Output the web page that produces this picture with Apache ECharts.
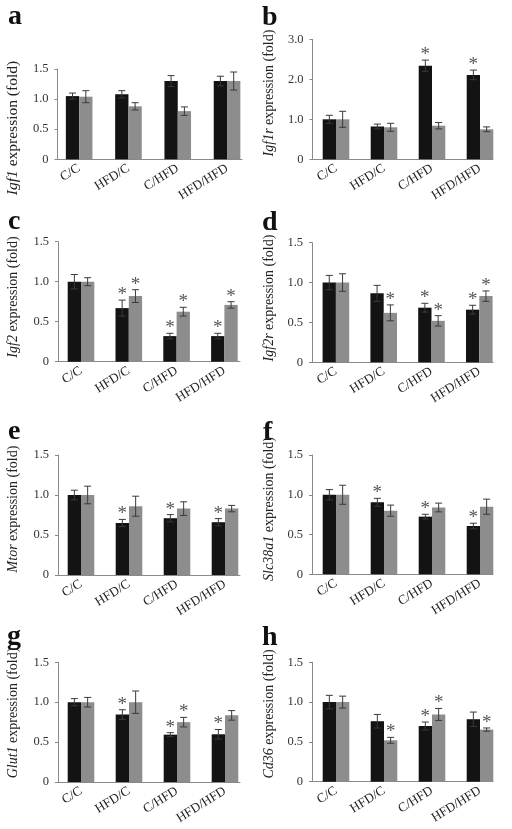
<!DOCTYPE html>
<html>
<head>
<meta charset="utf-8">
<script src="https://cdn.jsdelivr.net/npm/echarts@6/dist/echarts.min.js"></script>
<style>
html,body{margin:0;padding:0;background:#fff;}
#chart{width:512px;height:829px;}
</style>
</head>
<body>
<div id="chart"></div>
<script>
// ---------- data ----------
const categories = ['C/C', 'HFD/C', 'C/HFD', 'HFD/HFD'];
const ticks15 = ['0', '0.5', '1.0', '1.5'];
const ticks30 = ['0', '1.0', '2.0', '3.0'];

const igf1Black = [1.05, 1.08, 1.30, 1.30];
const igf1BlackErr = [0.05, 0.06, 0.09, 0.08];
const igf1Grey = [1.04, 0.88, 0.80, 1.30];
const igf1GreyErr = [0.10, 0.06, 0.07, 0.15];
const igf1BlackSig = [0, 0, 0, 0];
const igf1GreySig = [0, 0, 0, 0];

const igf1rBlack = [1.00, 0.82, 2.34, 2.11];
const igf1rBlackErr = [0.10, 0.06, 0.14, 0.12];
const igf1rGrey = [1.00, 0.80, 0.84, 0.75];
const igf1rGreyErr = [0.20, 0.10, 0.08, 0.06];
const igf1rBlackSig = [0, 0, 1, 1];
const igf1rGreySig = [0, 0, 0, 0];

const igf2Black = [1.00, 0.67, 0.32, 0.32];
const igf2BlackErr = [0.09, 0.10, 0.035, 0.035];
const igf2Grey = [1.00, 0.82, 0.625, 0.71];
const igf2GreyErr = [0.05, 0.08, 0.055, 0.04];
const igf2BlackSig = [0, 1, 1, 1];
const igf2GreySig = [0, 1, 1, 1];

const igf2rBlack = [1.00, 0.865, 0.685, 0.66];
const igf2rBlackErr = [0.09, 0.10, 0.055, 0.055];
const igf2rGrey = [1.00, 0.62, 0.52, 0.83];
const igf2rGreyErr = [0.11, 0.10, 0.065, 0.065];
const igf2rBlackSig = [0, 0, 1, 1];
const igf2rGreySig = [0, 1, 1, 1];

const mtorBlack = [1.00, 0.65, 0.71, 0.66];
const mtorBlackErr = [0.06, 0.045, 0.045, 0.045];
const mtorGrey = [1.00, 0.86, 0.83, 0.83];
const mtorGreyErr = [0.11, 0.125, 0.085, 0.04];
const mtorBlackSig = [0, 1, 1, 1];
const mtorGreySig = [0, 0, 0, 0];

const slc38a1Black = [1.00, 0.905, 0.725, 0.607];
const slc38a1BlackErr = [0.065, 0.05, 0.03, 0.035];
const slc38a1Grey = [1.00, 0.80, 0.84, 0.85];
const slc38a1GreyErr = [0.12, 0.07, 0.055, 0.095];
const slc38a1BlackSig = [0, 1, 1, 1];
const slc38a1GreySig = [0, 0, 0, 0];

const glut1Black = [1.00, 0.845, 0.593, 0.598];
const glut1BlackErr = [0.045, 0.06, 0.025, 0.06];
const glut1Grey = [1.00, 1.00, 0.75, 0.835];
const glut1GreyErr = [0.06, 0.14, 0.06, 0.06];
const glut1BlackSig = [0, 1, 1, 1];
const glut1GreySig = [0, 0, 1, 0];

const cd36Black = [1.00, 0.76, 0.70, 0.785];
const cd36BlackErr = [0.085, 0.085, 0.05, 0.09];
const cd36Grey = [1.00, 0.52, 0.845, 0.655];
const cd36GreyErr = [0.075, 0.037, 0.075, 0.02];
const cd36BlackSig = [0, 0, 1, 0];
const cd36GreySig = [0, 1, 1, 1];

// ---------- panel definitions (data refs + layout) ----------
const panels = [
  {letter:'a', gene:'Igf1', b:igf1Black, be:igf1BlackErr, g:igf1Grey, ge:igf1GreyErr, bs:igf1BlackSig, gs:igf1GreySig, ticks:ticks15, max:1.5, interval:0.5,
   axisX:57.5, bandStart:54.5, spacing:49.3, top:69, bottom:159.3, axisEnd:242, nameX:13, nameY:128, nameSize:15.5, lx:8, ly:26},
  {letter:'b', gene:'Igf1r', b:igf1rBlack, be:igf1rBlackErr, g:igf1rGrey, ge:igf1rGreyErr, bs:igf1rBlackSig, gs:igf1rGreySig, ticks:ticks30, max:3.0, interval:1.0,
   axisX:312.5, bandStart:312, spacing:48, top:39.3, bottom:159.3, axisEnd:493, nameX:269, nameY:93, nameSize:14, lx:262, ly:27},
  {letter:'c', gene:'Igf2', b:igf2Black, be:igf2BlackErr, g:igf2Grey, ge:igf2GreyErr, bs:igf2BlackSig, gs:igf2GreySig, ticks:ticks15, max:1.5, interval:0.5,
   axisX:58, bandStart:57.1, spacing:47.8, top:241.7, bottom:361.7, axisEnd:240, nameX:13, nameY:297, nameSize:14, lx:8, ly:231},
  {letter:'d', gene:'Igf2r', b:igf2rBlack, be:igf2rBlackErr, g:igf2rGrey, ge:igf2rGreyErr, bs:igf2rBlackSig, gs:igf2rGreySig, ticks:ticks15, max:1.5, interval:0.5,
   axisX:312, bandStart:312, spacing:47.8, top:242.7, bottom:362.3, axisEnd:493, nameX:269, nameY:298, nameSize:14, lx:262, ly:232},
  {letter:'e', gene:'Mtor', b:mtorBlack, be:mtorBlackErr, g:mtorGrey, ge:mtorGreyErr, bs:mtorBlackSig, gs:mtorGreySig, ticks:ticks15, max:1.5, interval:0.5,
   axisX:58, bandStart:57, spacing:48, top:455, bottom:575, axisEnd:240, nameX:13, nameY:509, nameSize:14, lx:8, ly:441},
  {letter:'f', gene:'Slc38a1', b:slc38a1Black, be:slc38a1BlackErr, g:slc38a1Grey, ge:slc38a1GreyErr, bs:slc38a1BlackSig, gs:slc38a1GreySig, ticks:ticks15, max:1.5, interval:0.5,
   axisX:312, bandStart:312, spacing:48, top:455, bottom:574.3, axisEnd:493, nameX:269, nameY:509, nameSize:14, lx:263, ly:442},
  {letter:'g', gene:'Glut1', b:glut1Black, be:glut1BlackErr, g:glut1Grey, ge:glut1GreyErr, bs:glut1BlackSig, gs:glut1GreySig, ticks:ticks15, max:1.5, interval:0.5,
   axisX:58, bandStart:57, spacing:48, top:662.3, bottom:782, axisEnd:240, nameX:13, nameY:713, nameSize:14, lx:7, ly:646},
  {letter:'h', gene:'Cd36', b:cd36Black, be:cd36BlackErr, g:cd36Grey, ge:cd36GreyErr, bs:cd36BlackSig, gs:cd36GreySig, ticks:ticks15, max:1.5, interval:0.5,
   axisX:312, bandStart:312, spacing:48, top:662.3, bottom:781.7, axisEnd:493, nameX:269, nameY:714, nameSize:14, lx:262, ly:647}
];

// ---------- styles ----------
const SERIF = '"Liberation Serif", "DejaVu Serif", serif';
const BLACK = '#131313';
const GREY = '#8d8d8d';
const AXIS = '#8a8a8a';
const ERR = '#3a3a3a';
const BAR_W = 13.3;
const CAP = 3.5;

const grid = [], xAxis = [], yAxis = [], series = [], graphic = [];

function errRender(params, api) {
  const cat = api.value(0), mean = api.value(1), err = api.value(2), side = api.value(3), sig = api.value(4);
  const x = api.coord([cat, 0])[0] + side * BAR_W / 2;
  const yt = api.coord([cat, mean + err])[1];
  const yb = api.coord([cat, mean - err])[1];
  const st = {stroke: ERR, lineWidth: 1};
  const children = [
    {type:'line', shape:{x1:x, y1:yb, x2:x, y2:yt}, style:st},
    {type:'line', shape:{x1:x-CAP, y1:yt, x2:x+CAP, y2:yt}, style:st},
    {type:'line', shape:{x1:x-CAP, y1:yb, x2:x+CAP, y2:yb}, style:st}
  ];
  if (sig) {
    children.push({type:'text', x:x, y:yt - 5, style:{text:'*', fill:'#555', fontSize:19, fontFamily:SERIF, align:'center', verticalAlign:'middle'}});
  }
  return {type:'group', children};
}

panels.forEach((p, i) => {
  const di = i * 2, fi = i * 2 + 1;
  const h = p.bottom - p.top;
  grid.push({left: p.bandStart, top: p.top, width: p.spacing * 4, height: h, containLabel: false});
  grid.push({left: p.axisX, top: p.top, width: p.axisEnd - p.axisX, height: h, containLabel: false});

  xAxis.push({
    type:'category', gridIndex: di, data: categories, boundaryGap: true,
    axisLine:{show:false}, axisTick:{show:false},
    axisLabel:{rotate:32, margin:8, color:'#222', fontFamily: SERIF, fontSize:13, interval:0}
  });
  xAxis.push({
    type:'value', gridIndex: fi, min:0, max:1,
    axisLine:{show:true, lineStyle:{color:AXIS, width:1}}, axisTick:{show:false}, axisLabel:{show:false}, splitLine:{show:false}
  });
  const tk = p.ticks;
  yAxis.push({
    type:'value', gridIndex: di, min:0, max:p.max, interval:p.interval, offset: p.bandStart - p.axisX,
    axisLine:{show:true, lineStyle:{color:AXIS, width:1}},
    axisTick:{show:true, length:3, lineStyle:{color:AXIS}},
    axisLabel:{margin:9, color:'#333', fontFamily: SERIF, fontSize:12.5,
      formatter: (v) => tk[Math.round(v / p.interval)]},
    splitLine:{show:false}
  });
  yAxis.push({type:'value', gridIndex: fi, min:0, max:p.max, show:false});

  series.push({type:'bar', name:'Black', xAxisIndex:di, yAxisIndex:di, data:p.b, barWidth:BAR_W, barGap:'0%',
    itemStyle:{color:BLACK}, silent:true});
  series.push({type:'bar', name:'Grey', xAxisIndex:di, yAxisIndex:di, data:p.g, barWidth:BAR_W, barGap:'0%',
    itemStyle:{color:GREY}, silent:true});
  const eb = [];
  categories.forEach((c, k) => {
    eb.push([k, p.b[k], p.be[k], -1, p.bs[k]]);
    eb.push([k, p.g[k], p.ge[k], 1, p.gs[k]]);
  });
  series.push({type:'custom', xAxisIndex:di, yAxisIndex:di, data:eb, renderItem: errRender, z:5, silent:true,
    encode:{x:0, y:1}});

  graphic.push({type:'text', x:p.lx, y:p.ly - 9, style:{text:p.letter, fontSize:28, fontWeight:'bold', fontFamily:SERIF, fill:'#111', align:'left', verticalAlign:'middle'}});
  graphic.push({type:'text', x:p.nameX, y:p.nameY, rotation:Math.PI/2,
    style:{text:'{i|' + p.gene + '}{n| expression (fold)}', align:'center', verticalAlign:'middle', fill:'#222',
      fontSize:p.nameSize, fontFamily:SERIF,
      rich:{
        i:{fontStyle:'italic', fontSize:p.nameSize, fontFamily:SERIF, fill:'#222'},
        n:{fontSize:p.nameSize, fontFamily:SERIF, fill:'#222'}
      }}});
});

const chart = echarts.init(document.getElementById('chart'), null, {renderer:'canvas'});
chart.setOption({
  backgroundColor:'#fff',
  animation:false,
  grid, xAxis, yAxis, series, graphic
});
</script>
</body>
</html>
